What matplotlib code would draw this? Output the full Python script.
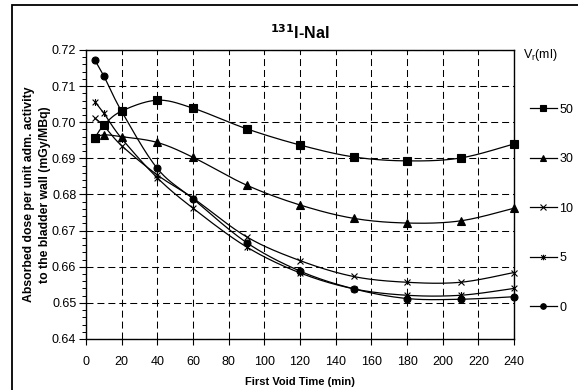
import matplotlib.pyplot as plt
import numpy as np
from matplotlib.path import Path
from matplotlib.lines import Line2D
from matplotlib.patches import Rectangle

plt.rcParams['font.family'] = ['Liberation Sans', 'DejaVu Sans']

# first void time (min)
void_time = [5, 10, 20, 40, 60, 90, 120, 150, 180, 210, 240]

# absorbed dose per unit administered activity (mGy/MBq), one list per residual volume
dose_50 = [0.6957, 0.6992, 0.7031, 0.7061, 0.7039, 0.6982, 0.6937, 0.6904, 0.6893, 0.6901, 0.6940]
dose_30 = [0.6957, 0.6965, 0.6960, 0.6944, 0.6903, 0.6826, 0.6771, 0.6734, 0.6721, 0.6727, 0.6762]
dose_10 = [0.7011, 0.6990, 0.6935, 0.6854, 0.6790, 0.6683, 0.6617, 0.6573, 0.6557, 0.6557, 0.6584]
dose_5 = [0.7057, 0.7025, 0.6955, 0.6846, 0.6762, 0.6655, 0.6583, 0.6539, 0.6521, 0.6521, 0.6540]
dose_0 = [0.7172, 0.7128, 0.7030, 0.6872, 0.6788, 0.6667, 0.6588, 0.6539, 0.6512, 0.6510, 0.6517]

volumes = ['50', '30', '10', '5', '0']

# Excel-like "star" marker: an x with a vertical bar through it
star = Path([(-1, -1), (1, 1), (-1, 1), (1, -1), (0, -1.2), (0, 1.2)],
            [Path.MOVETO, Path.LINETO, Path.MOVETO, Path.LINETO, Path.MOVETO, Path.LINETO])


def smooth(xs, ys, n=24):
    """Catmull-Rom curve through the points (like Excel's smoothed line)."""
    x_px = np.asarray(xs, float) / 240.0
    y_px = (np.asarray(ys, float) - 0.64) / 0.08 * (289 / 428)
    P = np.column_stack([x_px, y_px])
    P = np.vstack([P[0], P, P[-1]])
    out = []
    for i in range(1, len(P) - 2):
        p0, p1, p2, p3 = P[i - 1], P[i], P[i + 1], P[i + 2]
        t = np.linspace(0, 1, n, endpoint=False)[:, None]
        c1 = p1 + (p2 - p0) / 6
        c2 = p2 - (p3 - p1) / 6
        seg = ((1 - t) ** 3) * p1 + 3 * ((1 - t) ** 2) * t * c1 + 3 * (1 - t) * t ** 2 * c2 + t ** 3 * p2
        out.append(seg)
    out.append(P[-2][None, :])
    out = np.vstack(out)
    return out[:, 0] * 240.0, out[:, 1] / (289 / 428) * 0.08 + 0.64


fig = plt.figure(figsize=(5.78, 3.9), dpi=100)
ax = fig.add_axes([0.1488, 0.1308, 0.7405, 0.741])

# outer frame of the chart area
fig.patches.append(Rectangle((12 / 578, -0.1), 1.2, 1 - 5 / 390 + 0.1, transform=fig.transFigure,
                             fill=False, edgecolor='black', linewidth=1.3))

series = [
    (dose_50, 's', 6, 'full'),
    (dose_30, '^', 6, 'full'),
    (dose_10, 'x', 5, 'none'),
    (dose_5, star, 5, 'none'),
    (dose_0, 'o', 5, 'full'),
]

handles = []
for (vals, mk, ms, fill), lab in zip(series, volumes):
    sx, sy = smooth(void_time, vals)
    ax.plot(sx, sy, color='black', linewidth=0.9, zorder=3)
    ax.plot(void_time, vals, linestyle='none', marker=mk, markersize=ms,
            color='black', markeredgewidth=0.8, zorder=4, clip_on=False)
    handles.append(Line2D([], [], color='black', linewidth=0.9, marker=mk,
                          markersize=ms - 1, markeredgewidth=0.8, label=lab))

ax.set_xlim(0, 240)
ax.set_ylim(0.64, 0.72)
ax.set_xticks(np.arange(0, 241, 20))
ax.set_yticks(np.arange(0.64, 0.7201, 0.01))
ax.set_yticklabels([f'{v:.2f}' for v in np.arange(0.64, 0.7201, 0.01)])
ax.set_yticks(np.arange(0.64, 0.7201, 0.002), minor=True)
ax.tick_params(axis='both', labelsize=9, direction='out', color='black', width=0.8)
ax.tick_params(axis='y', which='major', length=5, pad=2)
ax.tick_params(axis='y', which='minor', length=3, width=0.7)
ax.tick_params(axis='x', length=4, pad=8)
ax.grid(True, which='major', color='black', linestyle=(0, (6.7, 3.8)), linewidth=0.75)
for s in ax.spines.values():
    s.set_linewidth(1.0)

ax.set_xlabel('First Void Time (min)', fontsize=8, fontweight='bold', labelpad=7)
ax.set_ylabel('Absorbed dose per unit adm. activity\nto the bladder wall (mGy/MBq)',
              fontsize=8.8, fontweight='bold', labelpad=1, linespacing=1.35)
ax.set_title(r'$\mathbf{^{131}}$I-NaI', fontsize=11.5, fontweight='bold', pad=8)

# legend title sits a little left of the entries
fig.text(523 / 578, 1 - 55 / 390, r'V$_\mathregular{r}$(ml)', fontsize=9, ha='left', va='center')
leg = ax.legend(handles=handles, loc='upper left',
                bbox_to_anchor=(1.025, 0.831), frameon=False, fontsize=9,
                handlelength=2.2, handletextpad=0.15, labelspacing=3.0, borderaxespad=0)

fig.savefig('out.png', dpi=100)
